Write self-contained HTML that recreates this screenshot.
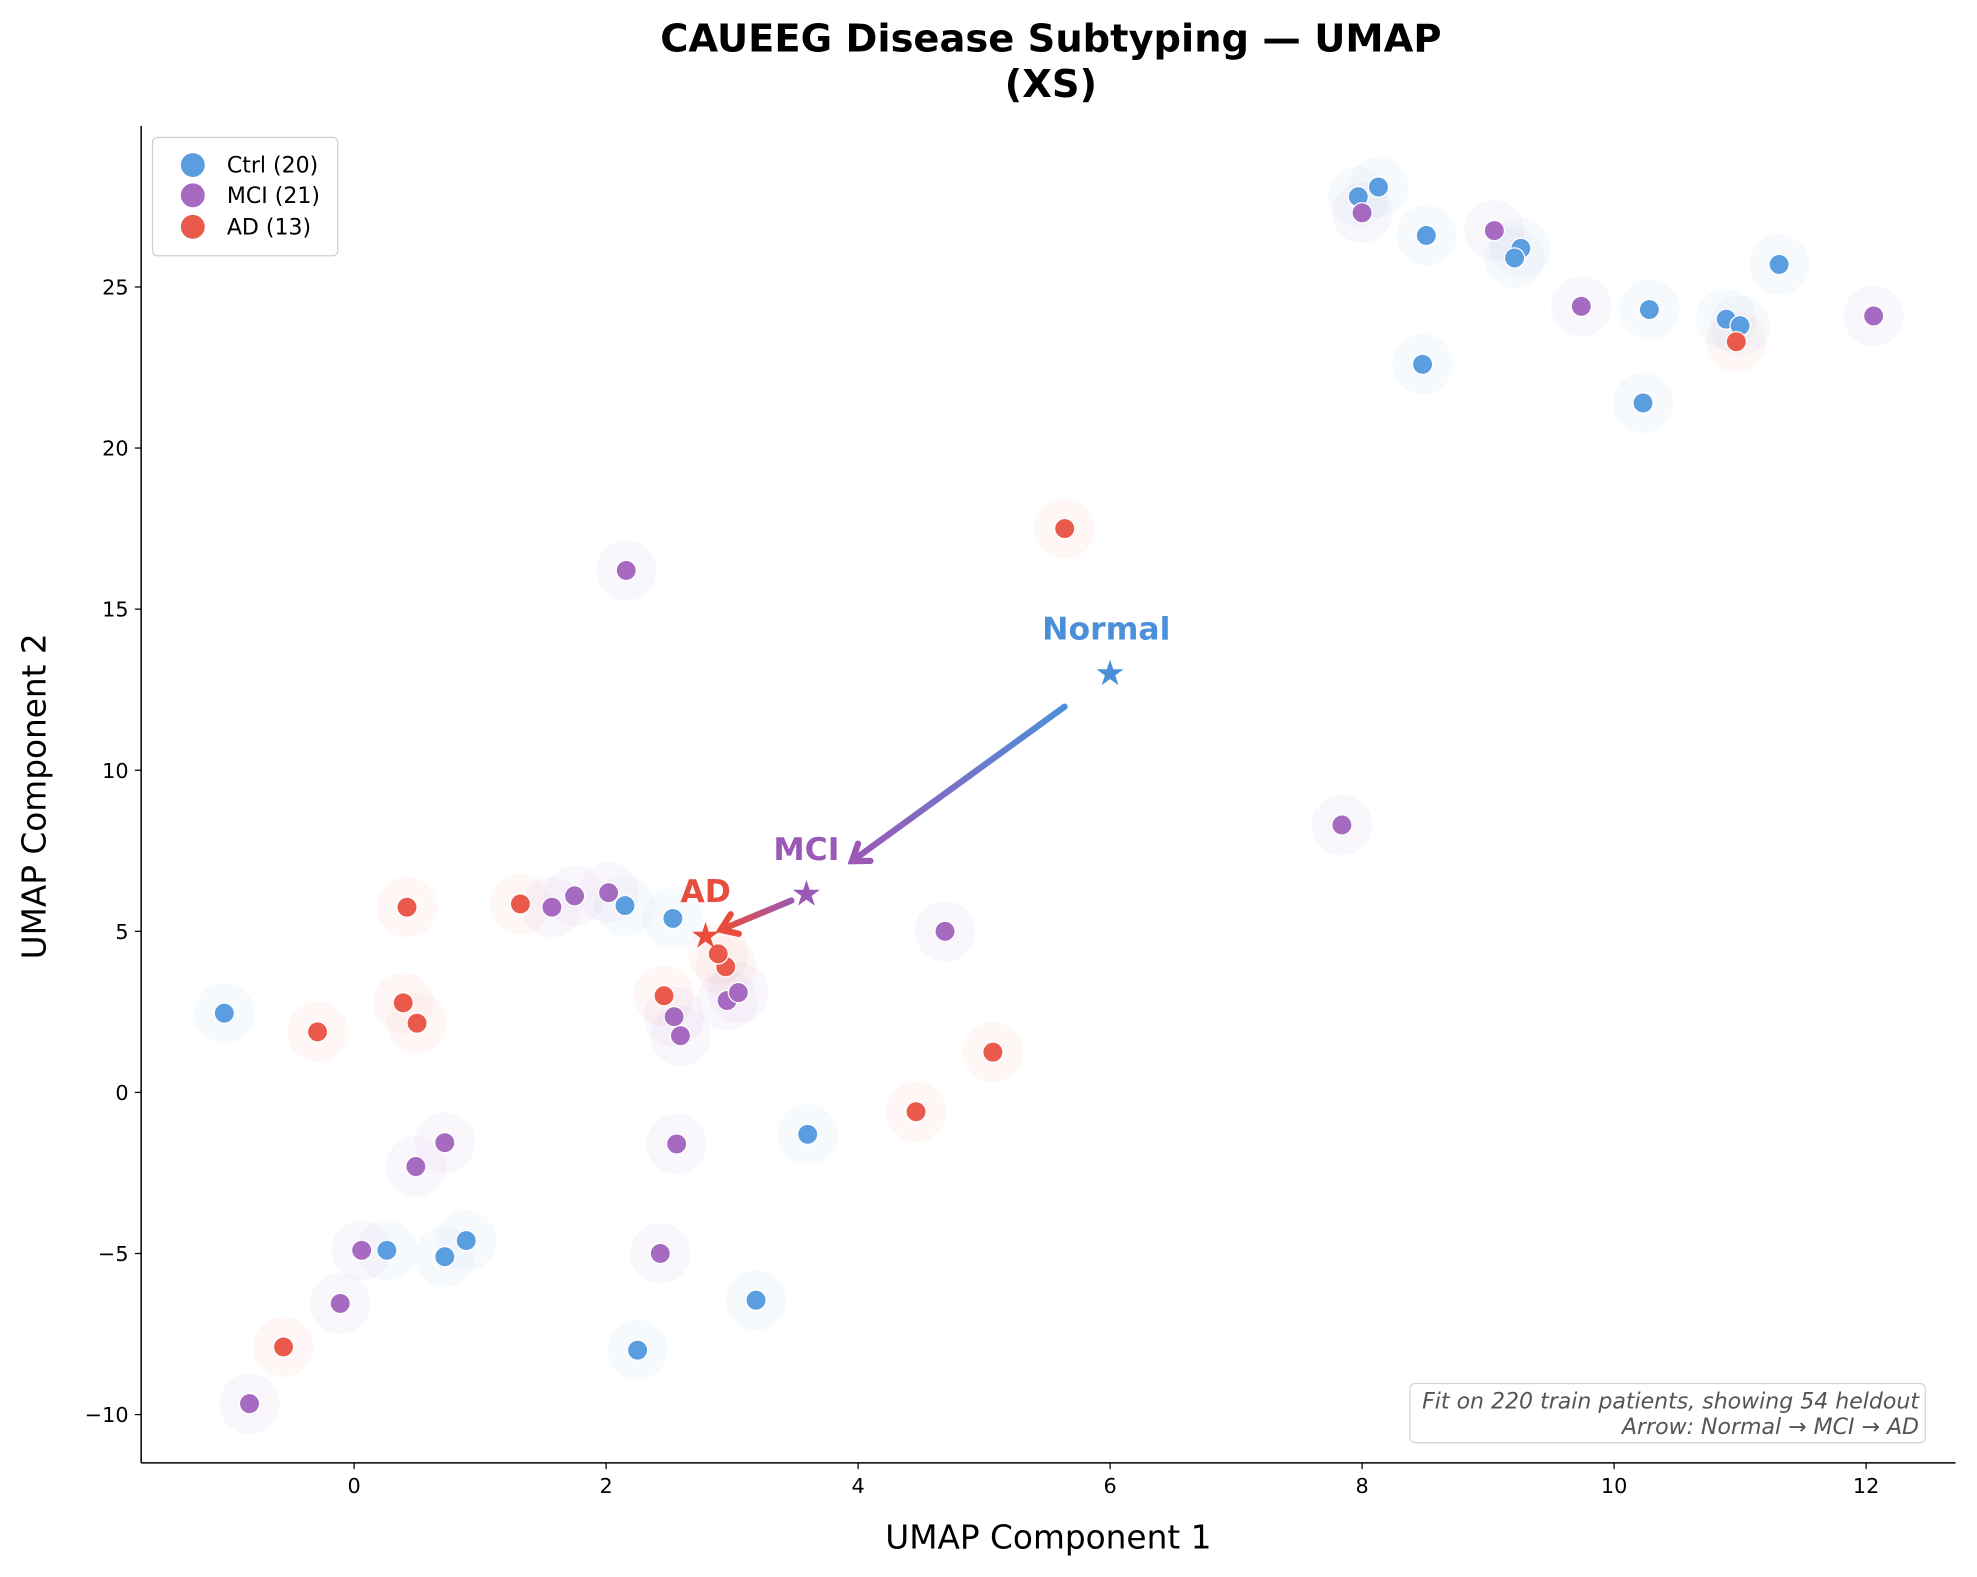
<!DOCTYPE html>
<html><head><meta charset="utf-8"><style>
html,body{margin:0;padding:0;background:#fff}
svg{display:block;font-family:"DejaVu Sans","Liberation Sans",sans-serif}
</style></head><body>
<svg id="chart" width="1977" height="1577" viewBox="0 0 1569 1251.6" xmlns="http://www.w3.org/2000/svg">
<defs>
<linearGradient id="g1" x1="846" y1="560" x2="680" y2="685" gradientUnits="userSpaceOnUse"><stop offset="0" stop-color="#4a90d9"/><stop offset="1" stop-color="#9b59b6"/></linearGradient>
<linearGradient id="g2" x1="628" y1="714" x2="577" y2="738" gradientUnits="userSpaceOnUse"><stop offset="0" stop-color="#9b59b6"/><stop offset="1" stop-color="#e74c3c"/></linearGradient>
</defs>
<text x="834" y="41" text-anchor="middle" font-size="30.5" font-weight="bold">CAUEEG Disease Subtyping — UMAP</text>
<text x="834" y="77" text-anchor="middle" font-size="30.5" font-weight="bold">(XS)</text>
<g id="halos"></g><g id="pts"></g><g id="axes"></g>
<text x="832" y="1229" text-anchor="middle" font-size="26">UMAP Component 1</text>
<text transform="translate(36,632) rotate(-90)" text-anchor="middle" font-size="26">UMAP Component 2</text>
<g>
<rect x="121" y="109" width="147" height="94" rx="4" fill="#fff" fill-opacity="0.85" stroke="#d0d0d0"/>
<circle cx="153" cy="131" r="10" fill="#5b9ee0" stroke="#fff"/>
<text x="180" y="137" font-size="17.5">Ctrl (20)</text>
<circle cx="153" cy="155" r="10" fill="#a66bc0" stroke="#fff"/>
<text x="180" y="161" font-size="17.5">MCI (21)</text>
<circle cx="153" cy="180" r="10" fill="#ea5a4c" stroke="#fff"/>
<text x="180" y="186" font-size="17.5">AD (13)</text>
</g>
<g>
<rect x="1119" y="1098" width="409" height="47" rx="4" fill="#fff" stroke="#d4d4d4"/>
<text x="1523" y="1118" text-anchor="end" font-size="17.5" font-style="italic" fill="#555">Fit on 220 train patients, showing 54 heldout</text>
<text x="1523" y="1138" text-anchor="end" font-size="17.5" font-style="italic" fill="#555">Arrow: Normal → MCI → AD</text>
</g>
</svg>
<script>
const ctrlX=[7.97,8.13,8.51,9.26,9.21,10.28,10.89,11.0,11.31,8.48,10.23,2.15,2.53,-1.03,3.6,0.26,0.72,0.89,3.19,2.25];
const ctrlY=[27.8,28.1,26.6,26.2,25.9,24.3,24.0,23.8,25.7,22.6,21.4,5.8,5.4,2.46,-1.3,-4.9,-5.1,-4.6,-6.45,-8.0];
const mciX=[8.0,9.05,9.74,12.06,2.16,7.84,1.57,1.75,2.02,4.69,2.54,2.59,2.96,3.05,0.72,0.49,2.56,0.06,2.43,-0.11,-0.83];
const mciY=[27.3,26.75,24.4,24.1,16.2,8.3,5.75,6.1,6.2,5.0,2.35,1.76,2.85,3.1,-1.56,-2.3,-1.6,-4.9,-5.0,-6.55,-9.66];
const adX=[10.97,5.64,0.42,1.32,0.39,0.5,-0.29,2.46,2.95,2.89,5.07,4.46,-0.56];
const adY=[23.3,17.5,5.75,5.85,2.78,2.15,1.88,3.0,3.9,4.3,1.25,-0.6,-7.9];
const centroidNames=["Normal","MCI","AD"];
const centroidX=[6.0,3.59,2.79];
const centroidY=[13.0,6.15,4.85];
const xTicks=[0,2,4,6,8,10,12];
const yTicks=[-10,-5,0,5,10,15,20,25];
const NS="http://www.w3.org/2000/svg";
const sx=v=>281+100*v, sy=v=>867-25.57*v;
function mk(tag,at,parent){const e=document.createElementNS(NS,tag);for(const k in at)e.setAttribute(k,at[k]);parent.appendChild(e);return e;}
const H=document.getElementById('halos'),P=document.getElementById('pts'),A=document.getElementById('axes');
const series=[[ctrlX,ctrlY,'#5b9ee0','ctrl'],[mciX,mciY,'#a66bc0','mci'],[adX,adY,'#ea5a4c','ad']];
series.forEach(([xs,ys,c,n])=>{xs.forEach((x,i)=>{
 const h=mk('circle',{cx:sx(x),cy:sy(ys[i]),r:24,fill:c,'fill-opacity':0.05},H);
 
 
 const p=mk('circle',{cx:sx(x),cy:sy(ys[i]),r:8,fill:c,stroke:'#fff','stroke-width':1},P);
 
 
});});
function arrow(i,j,grad){
 const x1=sx(centroidX[i]),y1=sy(centroidY[i]),x2=sx(centroidX[j]),y2=sy(centroidY[j]);
 const dx=x2-x1,dy=y2-y1,L=Math.hypot(dx,dy),ux=dx/L,uy=dy/L;
 const ax=x1+ux*L*0.15,ay=y1+uy*L*0.15,bx=x1+ux*L*0.85,by=y1+uy*L*0.85;
 const l=mk('line',{x1:ax,y1:ay,x2:bx,y2:by,stroke:'url(#'+grad+')','stroke-width':5,'stroke-linecap':'round'},A);
 
 
 const px=-uy,py=ux,s=12;
 const h=mk('path',{d:`M${bx-ux*s+px*s*0.7},${by-uy*s+py*s*0.7} L${bx},${by} L${bx-ux*s-px*s*0.7},${by-uy*s-py*s*0.7}`,fill:'none',stroke:j==1?'#9b59b6':'#e74c3c','stroke-width':5,'stroke-linecap':'round'},A);
 
 
}
arrow(0,1,'g1');arrow(1,2,'g2');
const cc=['#4a90d9','#9b59b6','#e74c3c'];
centroidNames.forEach((n,i)=>{
 const s=mk('text',{x:sx(centroidX[i]),y:sy(centroidY[i])+9,'text-anchor':'middle','font-size':28,fill:cc[i]},A);s.textContent='★';
 
 
 const t=mk('text',{x:sx(centroidX[i])-(i==0?3:0),y:sy(centroidY[i])-27,'text-anchor':'middle','font-size':25,'font-weight':'bold',fill:cc[i]},A);t.textContent=n;
 
 
});
mk('line',{x1:112,y1:100,x2:112,y2:1161,stroke:'#000','stroke-width':1.2},A);
mk('line',{x1:112,y1:1161,x2:1552,y2:1161,stroke:'#000','stroke-width':1.2},A);
xTicks.forEach(v=>{mk('line',{x1:sx(v),y1:1161,x2:sx(v),y2:1166,stroke:'#000'},A);
 const t=mk('text',{x:sx(v),y:1185,'text-anchor':'middle','font-size':16.5},A);t.textContent=String(v).replace('-','−');
 
 });
yTicks.forEach(v=>{mk('line',{x1:107,y1:sy(v),x2:112,y2:sy(v),stroke:'#000'},A);
 const t=mk('text',{x:102,y:sy(v)+6,'text-anchor':'end','font-size':16.5},A);t.textContent=String(v).replace('-','−');
 
 });
</script>
</body></html>
